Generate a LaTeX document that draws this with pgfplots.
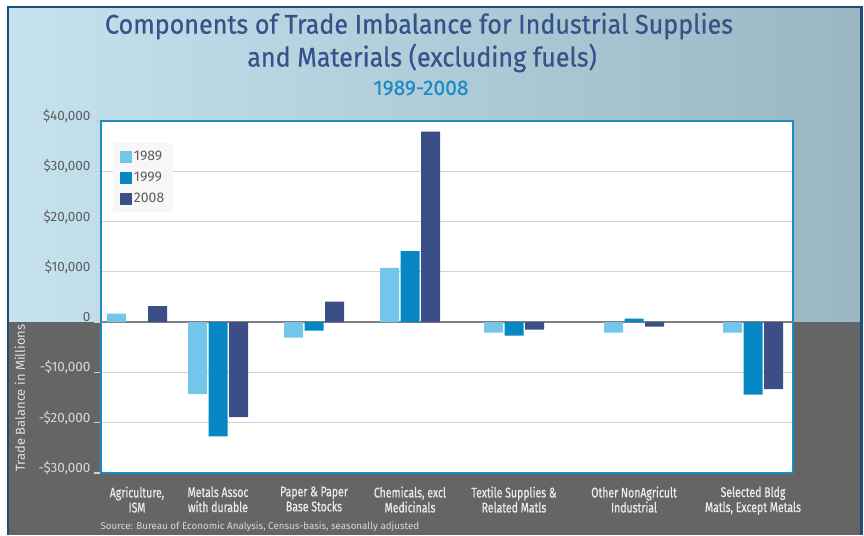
\documentclass[border=0pt]{standalone}
\usepackage{pgfplots}
\pgfplotsset{compat=1.18}
\usepackage{fontspec}
\setmainfont{Fira Sans}
\newfontfamily\condfont[FakeStretch=0.75,FakeBold=0.6]{Fira Sans}
\newfontfamily\titlefont[FakeStretch=0.93,FakeBold=0.5]{Fira Sans}
\newfontfamily\subfont[FakeBold=0.3]{Fira Sans}
\definecolor{c89}{HTML}{74C5EA}
\definecolor{c99}{HTML}{0787C3}
\definecolor{c08}{HTML}{3B4E85}
\definecolor{frameblue}{HTML}{1B4E7A}
\definecolor{axisblue}{HTML}{1B8AC6}
\definecolor{bgl}{HTML}{C6E2EE}
\definecolor{bgr}{HTML}{9BB6C3}
\definecolor{darkbg}{HTML}{656565}
\definecolor{titleblue}{HTML}{34538A}
\definecolor{subblue}{HTML}{1D8AC4}
\definecolor{ticklight}{HTML}{D8D8D8}
\definecolor{tickdark}{HTML}{5E5E5E}
\begin{document}
\begin{tikzpicture}
\useasboundingbox (0pt,0pt) rectangle (864pt,535pt);
\fill[white] (0pt,0pt) rectangle (864pt,535pt);
\shade[left color=bgl, right color=bgr] (9pt,213pt) rectangle (860pt,527pt);
\fill[darkbg] (9pt,0pt) rectangle (860pt,213pt);
\draw[frameblue, line width=2.5pt] (8.2pt,0pt) -- (8.2pt,527.8pt) -- (861.5pt,527.8pt) -- (861.5pt,0pt);
\begin{axis}[
  at={(101pt,62pt)}, anchor=south west,
  scale only axis, width=692pt, height=352pt,
  xmin=101, xmax=793, ymin=-30000, ymax=40000,
  ybar=1.5pt, bar width=19pt,
  axis background/.style={fill=white},
  axis line style={draw=axisblue, line width=1.8pt},
  xtick={137,218,314,410,514,634,753},
  xticklabels={{Agriculture,\\ISM},{Metals Assoc\\with durable},{Paper \& Paper\\Base Stocks},{Chemicals, excl\\Medicinals},{Textile Supplies \&\\Related Matls},{Other NonAgricult\\Industrial},{Selected Bldg\\Matls, Except Metals}},
  xticklabel style={align=center, font=\condfont\fontsize{14}{15}\selectfont, text=white!92!black, yshift=-3pt},
  x tick style={draw=none},
  scaled y ticks=false, ytick pos=left,
  ytick={-30000,-20000,-10000,0,10000,20000,30000,40000},
  yticklabels={{\textcolor{ticklight}{-\$30,000}},{\textcolor{ticklight}{-\$20,000}},{\textcolor{ticklight}{-\$10,000}},{0},{\$10,000},{\$20,000},{\$30,000},{\$40,000}},
  yticklabel style={font=\fontsize{13.5}{15}\selectfont, text=tickdark, yshift=5pt},
  ymajorgrids, grid style={draw=black!18, line width=1.2pt},
  tick align=outside, major tick length=7pt,
  y tick style={draw=black!18, line width=1.2pt},
  extra y ticks={0}, extra y tick labels={},
  extra y tick style={grid style={draw=black!50, line width=1.5pt}, major tick length=0pt},
  legend style={at={(0.017,0.937)}, anchor=north west, fill=black!3, draw=none,
    font=\fontsize{14}{15}\selectfont, text=tickdark, inner xsep=7pt, inner ysep=6pt, row sep=6pt},
  legend cell align=left,
]
\addplot[fill=c89, draw=none, legend image code/.code={\fill[c89] (0pt,-6pt) rectangle (12pt,6pt);}]
  coordinates {(137,1700) (218,-14300) (314,-3100) (410,10800) (514,-2100) (634,-2100) (753,-2100)};
\addplot[fill=c99, draw=none, legend image code/.code={\fill[c99] (0pt,-6pt) rectangle (12pt,6pt);}]
  coordinates {(218,-22700) (314,-1700) (410,14100) (514,-2700) (634,700) (753,-14400)};
\addplot[fill=c08, draw=none, legend image code/.code={\fill[c08] (0pt,-6pt) rectangle (12pt,6pt);}]
  coordinates {(137,3200) (218,-18900) (314,4100) (410,37900) (514,-1500) (634,-900) (753,-13300)};
\legend{1989,1999,2008}
\end{axis}
\node[font=\titlefont\fontsize{27}{30}\selectfont, text=titleblue] at (419pt,509pt) {Components of Trade Imbalance for Industrial Supplies};
\node[font=\titlefont\fontsize{27}{30}\selectfont, text=titleblue] at (422pt,477pt) {and Materials (excluding fuels)};
\node[font=\subfont\fontsize{21}{24}\selectfont, text=subblue] at (421pt,447pt) {1989-2008};
\node[rotate=90, font=\fontsize{13}{15}\selectfont, text=white!88!black] at (20pt,137pt) {Trade Balance in Millions};
\node[anchor=west, font=\fontsize{9.8}{11}\selectfont, text=ticklight] at (97pt,8pt) {Source: Bureau of Economic Analysis, Census-basis, seasonally adjusted};
\end{tikzpicture}
\end{document}
